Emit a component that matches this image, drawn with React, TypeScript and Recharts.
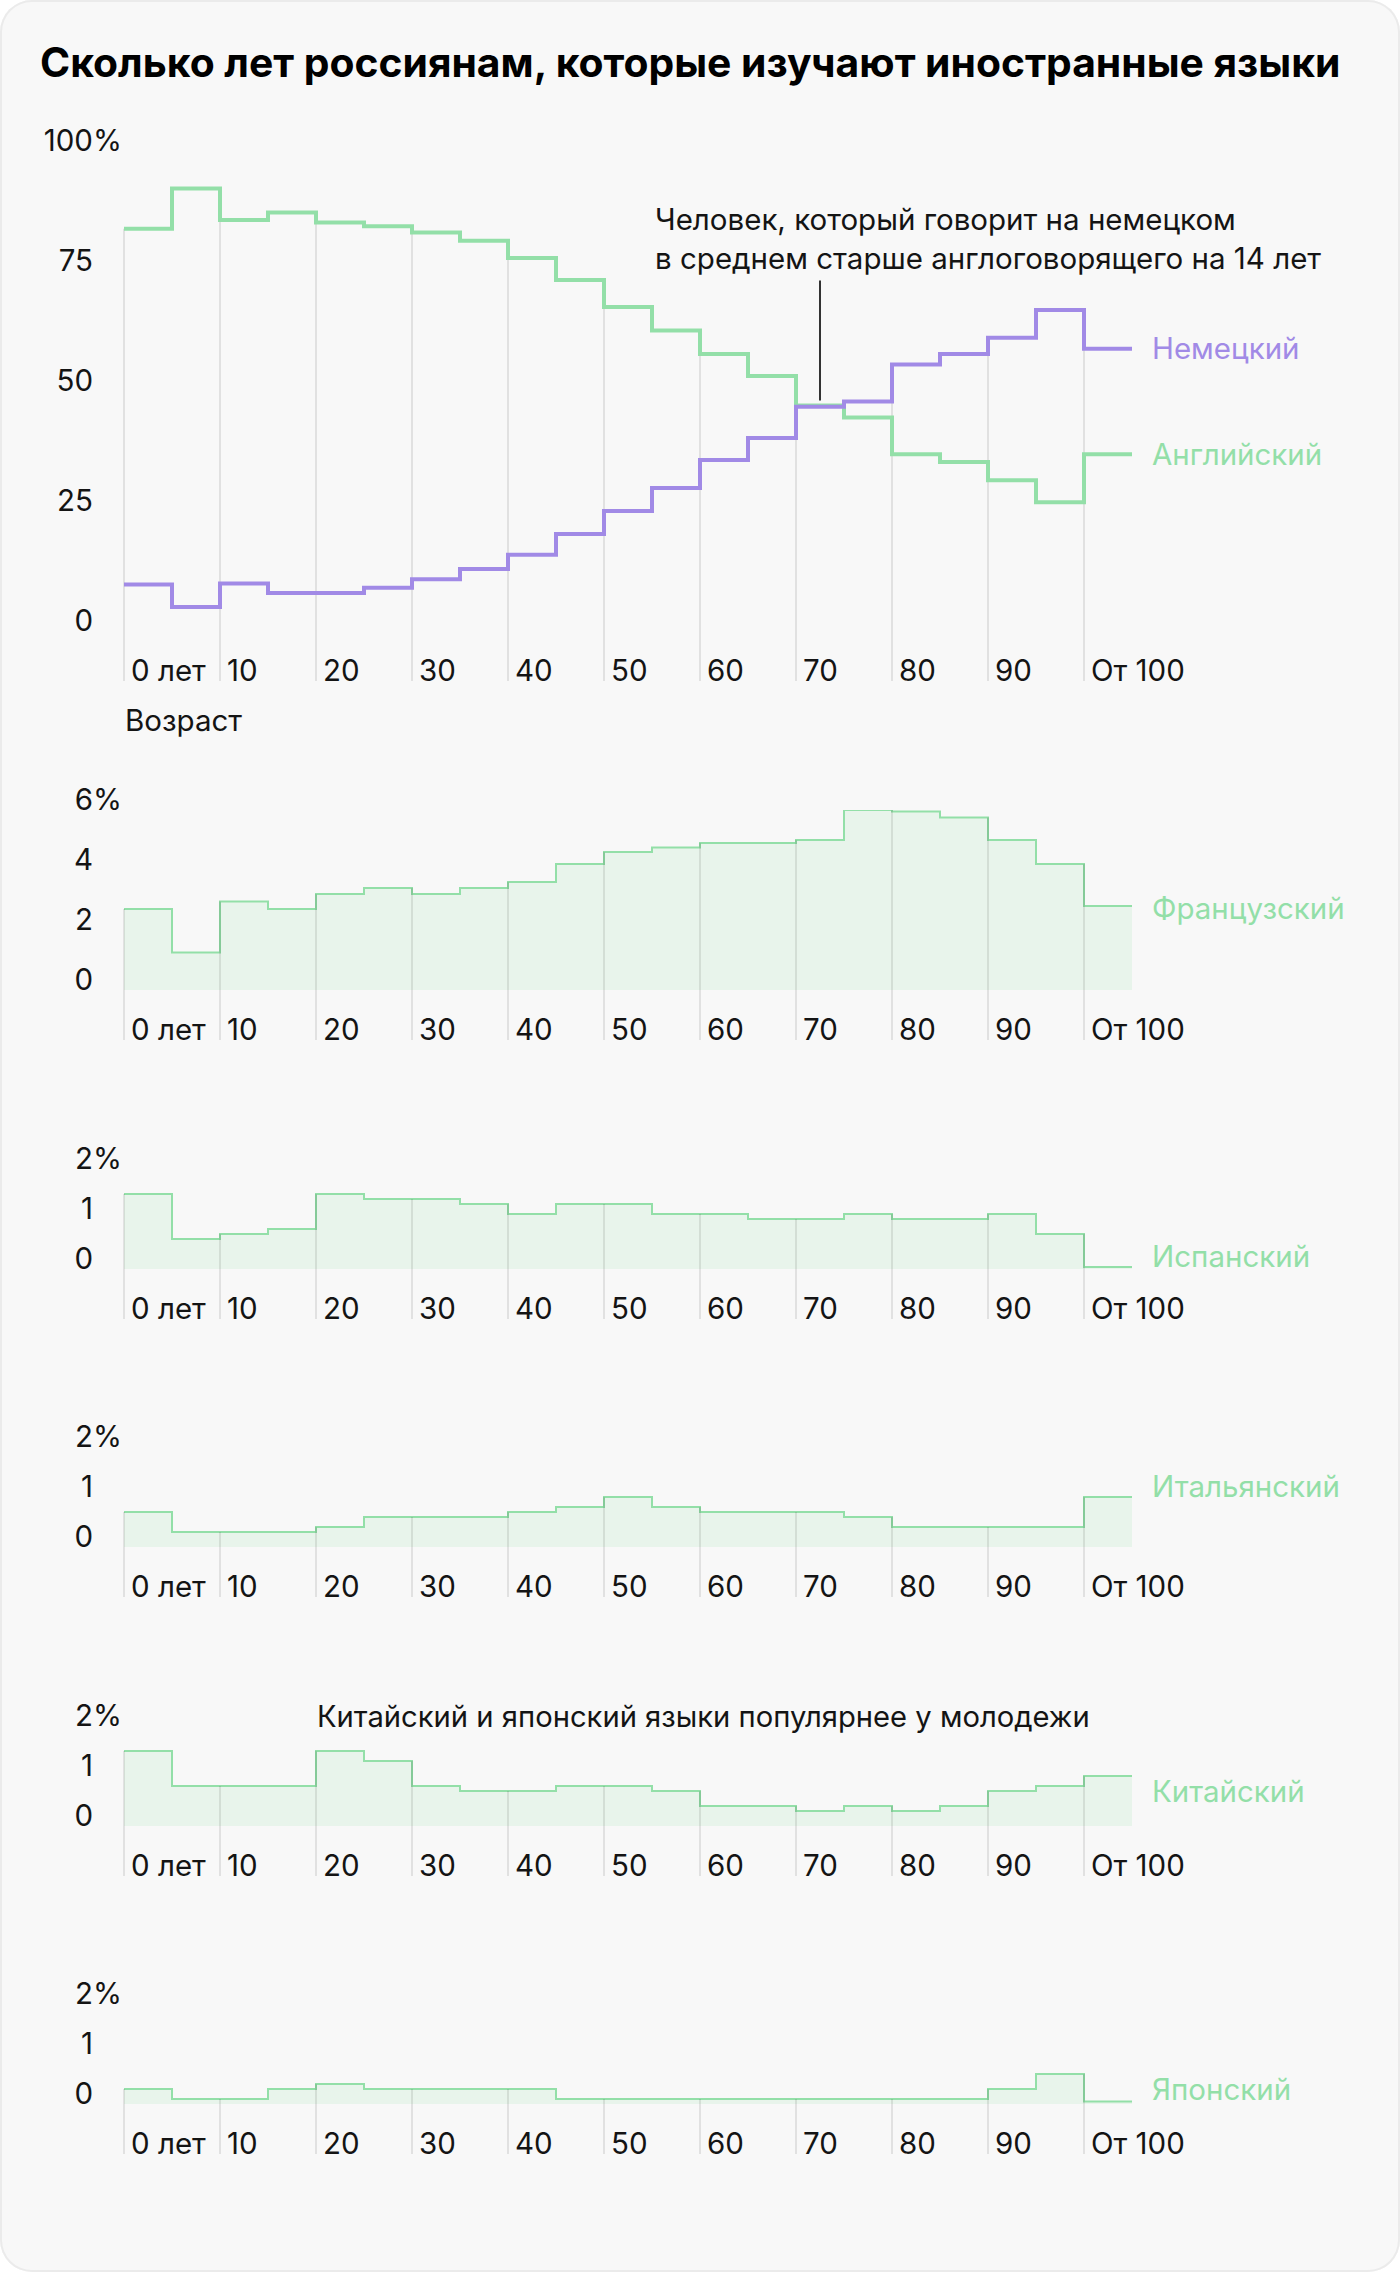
import React from 'react';
import { ComposedChart, Area, Line, XAxis, YAxis, ReferenceLine, ReferenceDot } from 'recharts';

// age bins, 5 years each; the last one is "100 and older"
const ages = [0, 5, 10, 15, 20, 25, 30, 35, 40, 45, 50, 55, 60, 65, 70, 75, 80, 85, 90, 95, 100];
const binEnd = 105;
const ageTicks = [0, 10, 20, 30, 40, 50, 60, 70, 80, 90, 100];
const ageTickLabels = ['0 лет', '10', '20', '30', '40', '50', '60', '70', '80', '90', 'От 100'];

// share of learners in each age bin, %
const english = [83.8, 92.2, 85.6, 87.2, 85.1, 84.3, 83.0, 81.3, 77.7, 73.1, 67.5, 62.6, 57.7, 53.1, 47.0, 44.5, 36.8, 35.2, 31.4, 26.8, 36.8];
const german = [9.7, 5.0, 9.9, 7.9, 7.9, 9.0, 10.8, 12.9, 15.9, 20.2, 25.0, 29.8, 35.6, 40.2, 46.7, 47.8, 55.5, 57.7, 61.1, 66.9, 58.8];
const french = [2.7, 1.25, 2.95, 2.7, 3.2, 3.4, 3.2, 3.4, 3.6, 4.2, 4.6, 4.75, 4.9, 4.9, 5.0, 6.0, 5.95, 5.75, 5.0, 4.2, 2.8];
const spanish = [1.5, 0.6, 0.7, 0.8, 1.5, 1.4, 1.4, 1.3, 1.1, 1.3, 1.3, 1.1, 1.1, 1.0, 1.0, 1.1, 1.0, 1.0, 1.1, 0.7, 0.04];
const italian = [0.7, 0.3, 0.3, 0.3, 0.4, 0.6, 0.6, 0.6, 0.7, 0.8, 1.0, 0.8, 0.7, 0.7, 0.7, 0.6, 0.4, 0.4, 0.4, 0.4, 1.0];
const chinese = [1.5, 0.8, 0.8, 0.8, 1.5, 1.3, 0.8, 0.7, 0.7, 0.8, 0.8, 0.7, 0.4, 0.4, 0.3, 0.4, 0.3, 0.4, 0.7, 0.8, 1.0];
const japanese = [0.3, 0.1, 0.1, 0.3, 0.4, 0.3, 0.3, 0.3, 0.3, 0.1, 0.1, 0.1, 0.1, 0.1, 0.1, 0.1, 0.1, 0.1, 0.3, 0.6, 0.05];

const GREEN = '#93dfa8';
const PURPLE = '#a18ae6';
const GRID = 'rgba(0,0,0,0.09)';
const TEXT = '#141414';
const FONT = 'Inter, "Noto Sans", sans-serif';
const FS = 29.5;

type Series = {
  key: string;
  values: number[];
  color: string;
  area?: boolean;
  label: string;
  labelAt: number;
};

type PanelProps = {
  series: Series[];
  zeroY: number;
  pxPerUnit: number;
  yTicks: number[];
  strokeWidth: number;
  children?: React.ReactNode;
};

const Panel = ({ series, zeroY, pxPerUnit, yTicks, strokeWidth, children }: PanelProps) => {
  const maxTick = yTicks[yTicks.length - 1];
  const minVal = -50 / pxPerUnit;
  const marginTop = 40;
  const plotH = maxTick * pxPerUnit + 50;
  const svgTop = zeroY - maxTick * pxPerUnit - marginTop;
  const height = marginTop + plotH + 12;
  const axisBase = marginTop + plotH;

  const rows: any[] = ages.map((a, i) => {
    const r: any = { age: a };
    series.forEach((s) => (r[s.key] = s.values[i]));
    return r;
  });
  rows.push({ ...rows[rows.length - 1], age: binEnd });

  // grid lines rise up to the higher of the two neighbouring steps
  const tops = ageTicks.map((t) => {
    const i = ages.indexOf(t);
    let m = -Infinity;
    series.forEach((s) => {
      m = Math.max(m, s.values[i]);
      if (i > 0) m = Math.max(m, s.values[i - 1]);
    });
    return m;
  });

  return (
    <div style={{ position: 'absolute', left: 0, top: svgTop }}>
      <ComposedChart width={1400} height={height} data={rows} margin={{ top: marginTop, right: 268, bottom: 0, left: 0 }}>
        <XAxis
          dataKey="age"
          type="number"
          domain={[0, binEnd]}
          ticks={ageTicks}
          interval={0}
          axisLine={false}
          tickLine={false}
          height={12}
          tick={(p: any) => (
            <text x={p.x + 7} y={axisBase} fontSize={FS} fontFamily={FONT} fill={TEXT}>
              {ageTickLabels[ageTicks.indexOf(p.payload.value)]}
            </text>
          )}
        />
        <YAxis
          type="number"
          domain={[minVal, maxTick]}
          ticks={yTicks}
          interval={0}
          allowDataOverflow
          axisLine={false}
          tickLine={false}
          width={124}
          tick={(p: any) => (
            <g>
              <text x={93} y={p.y} textAnchor="end" fontSize={FS} fontFamily={FONT} fill={TEXT}>
                {p.payload.value}
              </text>
              {p.payload.value === maxTick && (
                <text x={93} y={p.y} fontSize={FS} fontFamily={FONT} fill={TEXT}>
                  %
                </text>
              )}
            </g>
          )}
        />
        {ageTicks.map((t, k) => (
          <ReferenceLine
            key={'g' + t}
            segment={[{ x: t, y: minVal }, { x: t, y: tops[k] }]}
            stroke={GRID}
            strokeWidth={2}
          />
        ))}
        {series.map((s) =>
          s.area ? (
            <Area
              key={s.key}
              dataKey={s.key}
              type="stepAfter"
              baseValue={0}
              stroke={s.color}
              strokeWidth={strokeWidth}
              fill={s.color}
              fillOpacity={0.16}
              dot={false}
              activeDot={false}
              isAnimationActive={false}
            />
          ) : (
            <Line
              key={s.key}
              dataKey={s.key}
              type="stepAfter"
              stroke={s.color}
              strokeWidth={strokeWidth}
              dot={false}
              activeDot={false}
              isAnimationActive={false}
            />
          )
        )}
        {series.map((s) => (
          <ReferenceDot
            key={'l' + s.key}
            x={binEnd}
            y={s.labelAt}
            r={1}
            fill="none"
            stroke="none"
            label={{ value: s.label, position: 'right', offset: 19, fill: s.color, fontSize: FS, fontFamily: FONT }}
          />
        ))}
        {children}
      </ComposedChart>
    </div>
  );
};

export default function App() {
  return (
    <div
      style={{
        position: 'absolute',
        left: 0,
        top: 0,
        width: 1400,
        height: 2272,
        boxSizing: 'border-box',
        background: '#f8f8f8',
        boxShadow: 'inset 0 0 0 2px #ebebeb',
        borderRadius: 32,
        overflow: 'hidden',
        fontFamily: FONT,
      }}
    >
      <Panel
        zeroY={630.5}
        pxPerUnit={4.8}
        yTicks={[0, 25, 50, 75, 100]}
        strokeWidth={4}
        series={[
          { key: 'english', values: english, color: GREEN, label: 'Английский', labelAt: 36.8 },
          { key: 'german', values: german, color: PURPLE, label: 'Немецкий', labelAt: 58.8 },
        ]}
      >
        <ReferenceLine segment={[{ x: 72.5, y: 48 }, { x: 72.5, y: 73 }]} stroke="#333" strokeWidth={2} />
      </Panel>
      <Panel
        zeroY={989.5}
        pxPerUnit={30}
        yTicks={[0, 2, 4, 6]}
        strokeWidth={2}
        series={[{ key: 'french', values: french, color: GREEN, area: true, label: 'Французский', labelAt: 2.72 }]}
      />
      <Panel
        zeroY={1268.5}
        pxPerUnit={50}
        yTicks={[0, 1, 2]}
        strokeWidth={2}
        series={[{ key: 'spanish', values: spanish, color: GREEN, area: true, label: 'Испанский', labelAt: 0.25 }]}
      />
      <Panel
        zeroY={1547}
        pxPerUnit={50}
        yTicks={[0, 1, 2]}
        strokeWidth={2}
        series={[{ key: 'italian', values: italian, color: GREEN, area: true, label: 'Итальянский', labelAt: 1.2 }]}
      />
      <Panel
        zeroY={1825.5}
        pxPerUnit={50}
        yTicks={[0, 1, 2]}
        strokeWidth={2}
        series={[{ key: 'chinese', values: chinese, color: GREEN, area: true, label: 'Китайский', labelAt: 0.68 }]}
      />
      <Panel
        zeroY={2104}
        pxPerUnit={50}
        yTicks={[0, 1, 2]}
        strokeWidth={2}
        series={[{ key: 'japanese', values: japanese, color: GREEN, area: true, label: 'Японский', labelAt: 0.28 }]}
      />
      <svg width={1400} height={2272} style={{ position: 'absolute', left: 0, top: 0, pointerEvents: 'none' }}>
        <text x={40} y={77} fontSize={40.8} fontWeight={700} fontFamily={FONT} fill="#000">
          Сколько лет россиянам, которые изучают иностранные языки
        </text>
        <text x={655} y={230} fontSize={FS} fontFamily={FONT} fill={TEXT}>
          Человек, который говорит на немецком
        </text>
        <text x={655} y={269} fontSize={FS} fontFamily={FONT} fill={TEXT}>
          в среднем старше англоговорящего на 14 лет
        </text>
        <text x={125} y={731} fontSize={FS} fontFamily={FONT} fill={TEXT}>
          Возраст
        </text>
        <text x={317} y={1727} fontSize={29.2} fontFamily={FONT} fill={TEXT}>
          Китайский и японский языки популярнее у молодежи
        </text>
      </svg>
    </div>
  );
}
